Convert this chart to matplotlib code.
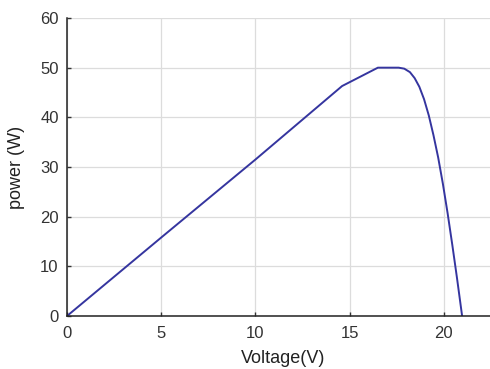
import matplotlib
matplotlib.use("Agg")
import matplotlib.pyplot as plt

voltage = [0, 5, 10, 14.6, 16.5, 17.6, 17.9, 18.2, 18.45, 18.7, 18.95, 19.2,
           19.45, 19.7, 19.95, 20.2, 20.45, 20.7, 20.97]
power = [0, 15.8, 31.5, 46.3, 50, 50, 49.8, 49.1, 47.9, 46.15, 43.65, 40.4,
         36.4, 31.9, 26.6, 20.7, 14.3, 7.6, 0]
xticks = [0, 5, 10, 15, 20]
yticks = [0, 10, 20, 30, 40, 50, 60]

plt.rcParams['font.family'] = ['Liberation Sans', 'DejaVu Sans']
fig = plt.figure(figsize=(4.9, 3.69), dpi=100)
ax = fig.add_axes([67/490, 53/369, 423/490, 298/369])
ax.plot(voltage, power, color='#35359f', lw=1.4)
ax.set_xlim(0, 22.45)
ax.set_ylim(0, 60)
ax.set_xticks(xticks)
ax.set_yticks(yticks)
ax.grid(True, color='#dcdcdc', lw=0.9)
ax.set_axisbelow(True)
for s in ['top', 'right']:
    ax.spines[s].set_visible(False)
for s in ['left', 'bottom']:
    ax.spines[s].set_color('#222222')
    ax.spines[s].set_linewidth(1.1)
ax.tick_params(direction='in', labelsize=12, colors='#333333', length=3, width=1.0)
ax.tick_params(axis='x', pad=7)
ax.tick_params(axis='y', pad=6)
ax.set_xlabel('Voltage(V)', fontsize=13, color='#222222')
ax.set_ylabel('power (W)', fontsize=13, color='#222222')
ax.xaxis.set_label_coords((283.5 - 67) / 423, -0.115)
ax.yaxis.set_label_coords(-0.1, 0.5)
fig.savefig('out.png', dpi=100)
